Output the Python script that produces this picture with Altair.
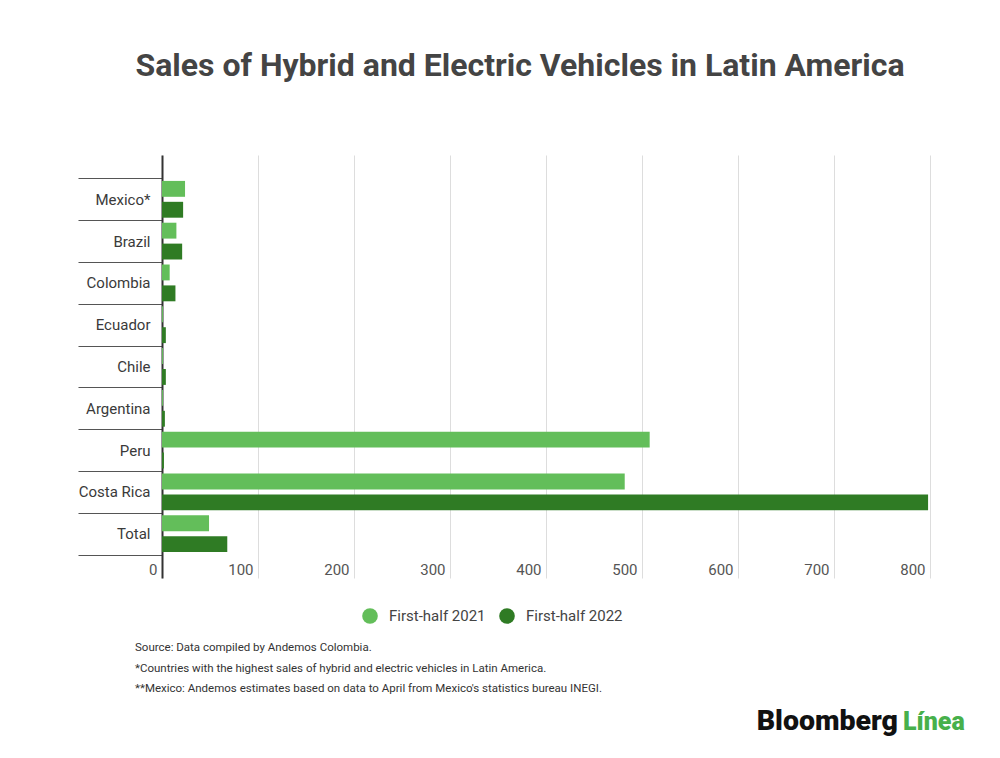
import pandas as pd
import altair as alt

# Data
countries = ["Mexico*", "Brazil", "Colombia", "Ecuador", "Chile",
             "Argentina", "Peru", "Costa Rica", "Total"]
sales_2021 = [24, 15, 8, 1, 1, 1, 508, 482, 49]
sales_2022 = [22, 21, 14, 4, 4, 3, 2, 798, 68]
periods = ["First-half 2021", "First-half 2022"]
x_ticks = [0, 100, 200, 300, 400, 500, 600, 700, 800]

notes = [
    "Source: Data compiled by Andemos Colombia.",
    "*Countries with the highest sales of hybrid and electric vehicles in Latin America.",
    "**Mexico: Andemos estimates based on data to April from Mexico's statistics bureau INEGI.",
]

# Long format: one row per bar
rows = []
for c, a, b in zip(countries, sales_2021, sales_2022):
    rows.append({"Country": c, "Period": periods[0], "Sales": a})
    rows.append({"Country": c, "Period": periods[1], "Sales": b})
df = pd.DataFrame(rows)

color_scale = alt.Scale(domain=periods, range=["#63BE5A", "#2F7B24"])

bars = (
    alt.Chart(df)
    .mark_bar()
    .encode(
        x=alt.X(
            "Sales:Q",
            title=None,
            scale=alt.Scale(domain=[0, 800], nice=False),
            axis=alt.Axis(
                values=x_ticks,
                grid=True,
                gridColor="#dddddd",
                domain=False,
                ticks=False,
                labelAlign="right",
                labelBaseline="middle",
                labelPadding=-9,
                labelOffset=-5,
                labelFlush=False,
                labelFontSize=15,
                labelColor="#555555",
            ),
        ),
        y=alt.Y(
            "Country:N",
            title=None,
            sort=countries,
            scale=alt.Scale(paddingInner=0, paddingOuter=0.56),
            axis=alt.Axis(
                domainColor="#333333",
                domainWidth=2,
                tickBand="extent",
                tickExtra=True,
                tickSize=84,
                tickColor="#555555",
                tickWidth=1.2,
                labelPadding=-72,
                labelFontSize=15,
                labelColor="#3a3a3a",
            ),
        ),
        yOffset=alt.YOffset(
            "Period:N",
            sort=periods,
            scale=alt.Scale(paddingInner=0.24, paddingOuter=0.12),
        ),
        color=alt.Color(
            "Period:N",
            scale=color_scale,
            legend=alt.Legend(
                title=None,
                orient="none",
                legendX=200,
                legendY=453,
                direction="horizontal",
                symbolType="circle",
                symbolSize=245,
                symbolStrokeWidth=0,
                labelFontSize=15,
                labelColor="#444444",
                labelOffset=11,
                columnPadding=13,
            ),
        ),
    )
)

# Footnotes below the legend
note_layers = []
for i, note in enumerate(notes):
    note_layers.append(
        alt.Chart(pd.DataFrame({"t": [note]}))
        .mark_text(align="left", baseline="middle", fontSize=11.5, color="#333333")
        .encode(x=alt.value(-27), y=alt.value(493 + i * 20.5), text="t:N")
    )

# Bloomberg Línea wordmark
logo_black = (
    alt.Chart(pd.DataFrame({"t": ["Bloomberg"]}))
    .mark_text(align="right", baseline="alphabetic", fontSize=28.5,
               fontWeight=900, color="#111111")
    .encode(x=alt.value(736), y=alt.value(575), text="t:N")
)
logo_green = (
    alt.Chart(pd.DataFrame({"t": ["Línea"]}))
    .mark_text(align="left", baseline="alphabetic", fontSize=25,
               fontWeight=900, color="#47B04B")
    .encode(x=alt.value(741), y=alt.value(575), text="t:N")
)

chart = (
    alt.layer(bars, *note_layers, logo_black, logo_green)
    .properties(
        width=768,
        height=423,
        autosize=alt.AutoSizeParams(type="none"),
        padding={"left": 154, "top": 147, "right": 62, "bottom": 172},
        title=alt.TitleParams(
            "Sales of Hybrid and Electric Vehicles in Latin America",
            fontSize=32,
            fontWeight="bold",
            color="#444444",
            anchor="middle",
            dx=-26,
            offset=65,
        ),
    )
    .configure(font="Roboto", background="white")
    .configure_view(stroke=None)
)

chart.save("out.html", embed_options={"renderer": "svg", "actions": False})
